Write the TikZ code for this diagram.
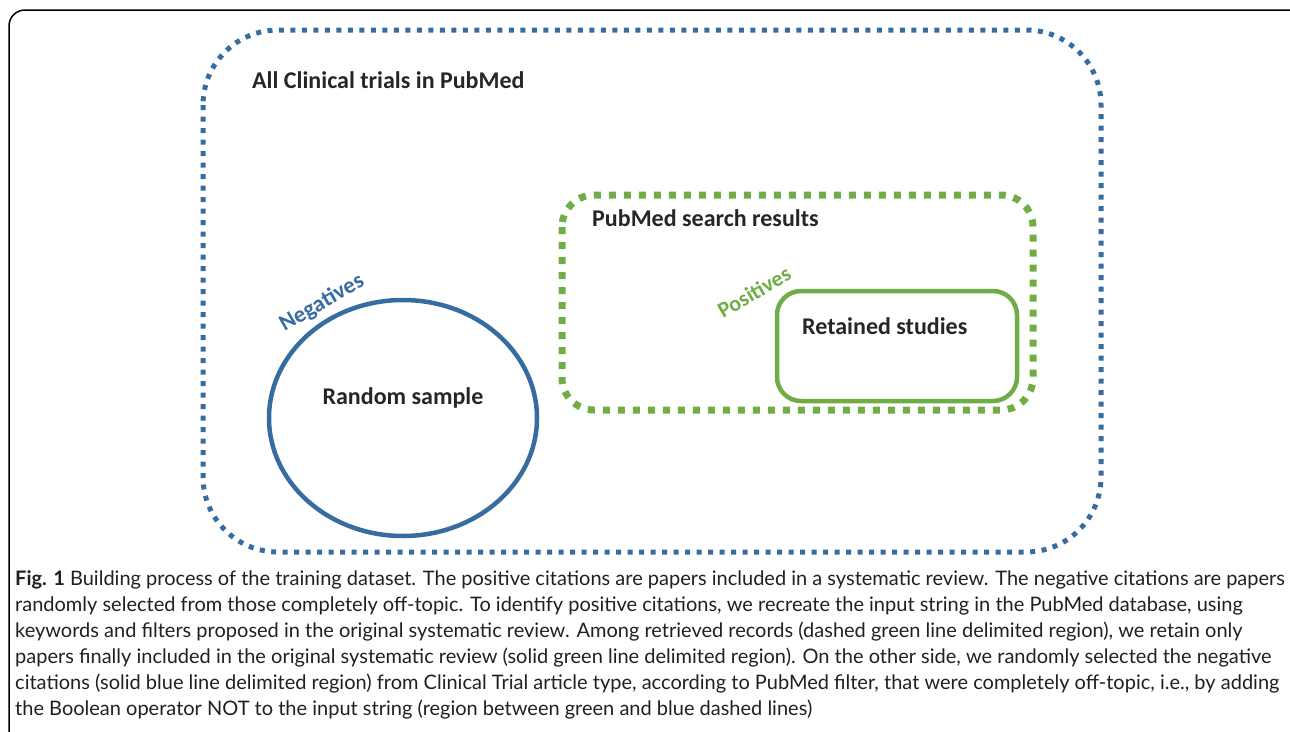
\documentclass[tikz,border=0pt]{standalone}
\usepackage{fontspec}
\setmainfont{Lato}
\newfontfamily\labelfont{Carlito}
\usetikzlibrary{positioning}

\definecolor{trialblue}{RGB}{55,108,160}
\definecolor{searchgreen}{RGB}{112,173,71}
\definecolor{captiongray}{RGB}{35,31,32}

\begin{document}
\begin{tikzpicture}[x=1pt,y=-1pt,
		setlabel/.style={font=\labelfont\bfseries\fontsize{24}{28}\selectfont, text=black!85, inner sep=0pt},
		tag/.style={font=\labelfont\bfseries\fontsize{22}{26}\selectfont, inner sep=0pt, rotate=30}]
		\useasboundingbox (0,0) rectangle (1290,731);
		\clip (0,0) rectangle (1290,731);
		
		% frame round the figure (cut by the page)
		\draw[line width=1.5pt, rounded corners=16pt] (9,10) rectangle (1310,760);
		
		% all trials (dotted blue)
		\draw[trialblue, line width=5pt, dash pattern=on 5pt off 6.5pt, rounded corners=75pt] (203,30) rectangle (1101,552);
		\node[setlabel, anchor=west] (all) at (252,80) {All Clinical trials in PubMed};
		
		% search results (dashed green)
		\draw[searchgreen, line width=7pt, dash pattern=on 7pt off 8pt, rounded corners=32pt] (562,195) rectangle (1033,410);
		\node[setlabel, anchor=west] (search) at (592,218) {PubMed search results};
		
		% retained studies (solid green)
		\draw[searchgreen, line width=4.5pt, rounded corners=24pt] (777,291) rectangle (1017,401);
		\node[setlabel, anchor=west] (retained) at (802,326) {Retained studies};
		\node[tag, text=searchgreen] (positives) at (754,292) {Positives};
		
		% random sample (solid blue)
		\draw[trialblue, line width=4.5pt] (403,418) ellipse (134pt and 118pt);
		\node[setlabel] (random) at (403,398) {Random sample};
		\node[tag, text=trialblue, font=\labelfont\bfseries\fontsize{23}{26}\selectfont] (negatives) at (322,303) {Negatives};
		
		% caption
		\node[anchor=north west, align=left, inner sep=0pt, text=captiongray, font=\fontsize{20}{26}\selectfont] (caption) at (15,570) {\textbf{Fig. 1} Building process of the training dataset. The positive citations are papers included in a systematic review. The negative citations are papers\\
			randomly selected from those completely off-topic. To identify positive citations, we recreate the input string in the PubMed database, using\\
			keywords and filters proposed in the original systematic review. Among retrieved records (dashed green line delimited region), we retain only\\
			papers finally included in the original systematic review (solid green line delimited region). On the other side, we randomly selected the negative\\
			citations (solid blue line delimited region) from Clinical Trial article type, according to PubMed filter, that were completely off-topic, i.e., by adding\\
			the Boolean operator NOT to the input string (region between green and blue dashed lines)};
		
	\end{tikzpicture}
\end{document}
